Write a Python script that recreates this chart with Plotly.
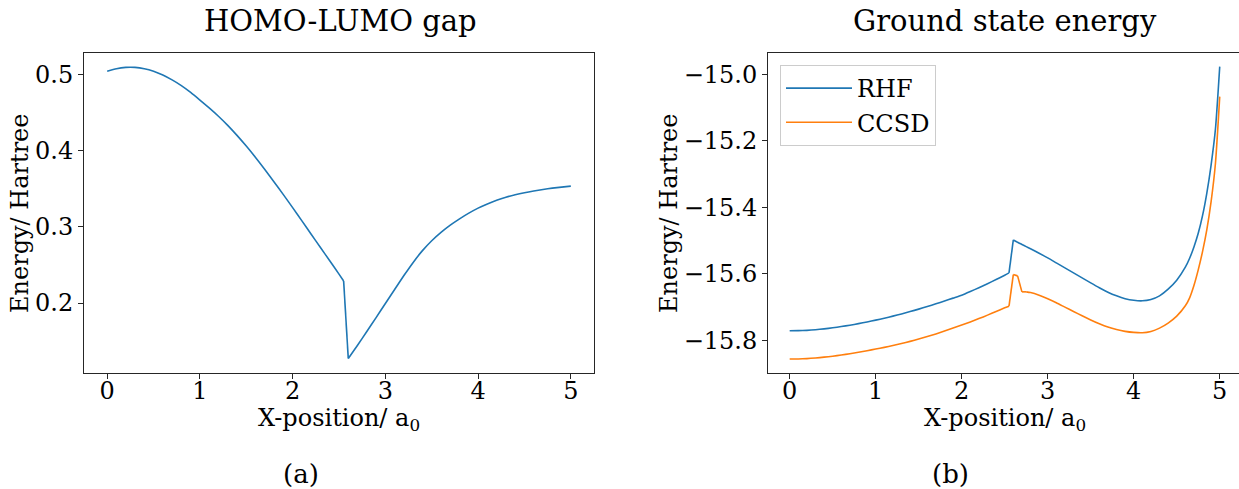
import plotly.graph_objects as go

# ---------------- data ----------------
gap_x = [0.0, 0.1, 0.2, 0.3, 0.4, 0.5, 0.6, 0.7, 0.8, 0.9, 1.0, 1.1, 1.2, 1.3, 1.4, 1.5,
         1.6, 1.7, 1.8, 1.9, 2.0, 2.1, 2.2, 2.3, 2.4, 2.5, 2.55, 2.6, 2.7, 2.8, 2.9,
         3.0, 3.1, 3.2, 3.3, 3.4, 3.5, 3.6, 3.7, 3.8, 3.9, 4.0, 4.1, 4.2, 4.3, 4.4,
         4.5, 4.6, 4.7, 4.8, 4.9, 5.0]
gap_y = [0.505, 0.5083, 0.5100, 0.5100, 0.5083, 0.5050, 0.5000, 0.4935, 0.4860, 0.4770,
         0.4670, 0.4567, 0.4457, 0.4337, 0.4205, 0.4064, 0.3914, 0.3756, 0.3593, 0.3426,
         0.3255, 0.3080, 0.2905, 0.2730, 0.2555, 0.2380, 0.2290, 0.1270, 0.1445, 0.1625,
         0.1808, 0.1993, 0.2178, 0.2361, 0.2534, 0.2689, 0.2819, 0.2929, 0.3024, 0.3107,
         0.3182, 0.3248, 0.3303, 0.3351, 0.3391, 0.3424, 0.3451, 0.3474, 0.3494, 0.3511,
         0.3525, 0.3537]

en_x = [0.0, 0.1, 0.2, 0.3, 0.4, 0.5, 0.6, 0.7, 0.8, 0.9, 1.0, 1.1, 1.2, 1.3, 1.4, 1.5,
        1.6, 1.7, 1.8, 1.9, 2.0, 2.1, 2.2, 2.3, 2.4, 2.5, 2.55, 2.6, 2.65, 2.7, 2.75,
        2.8, 2.9, 3.0, 3.1, 3.2, 3.3, 3.4, 3.5, 3.6, 3.7, 3.8, 3.9, 4.0, 4.1, 4.2,
        4.3, 4.4, 4.5, 4.6, 4.65, 4.7, 4.75, 4.8, 4.85, 4.9, 4.95, 5.0]
rhf_y = [-15.7710, -15.7707, -15.7697, -15.7679, -15.7653, -15.7621, -15.7584, -15.7542,
         -15.7496, -15.7446, -15.7390, -15.7332, -15.7270, -15.7204, -15.7134, -15.7060,
         -15.6982, -15.6900, -15.6816, -15.6729, -15.6640, -15.6530, -15.6415, -15.6295,
         -15.6170, -15.6040, -15.5970, -15.4980, -15.5050, -15.5115, -15.5180, -15.5245,
         -15.5380, -15.5520, -15.5670, -15.5820, -15.5970, -15.6120, -15.6270, -15.6415,
         -15.6550, -15.6660, -15.6745, -15.6795, -15.6810, -15.6770, -15.6660, -15.6460,
         -15.6190, -15.5800, -15.5530, -15.5190, -15.4780, -15.4250, -15.3570, -15.2720,
         -15.1650, -14.9770]
ccsd_y = [-15.8560, -15.8557, -15.8547, -15.8529, -15.8504, -15.8474, -15.8439, -15.8399,
          -15.8356, -15.8310, -15.8260, -15.8210, -15.8155, -15.8095, -15.8030, -15.7960,
          -15.7885, -15.7805, -15.7720, -15.7630, -15.7540, -15.7445, -15.7345, -15.7240,
          -15.7130, -15.7020, -15.6970, -15.6020, -15.6060, -15.6540, -15.6540, -15.6560,
          -15.6640, -15.6750, -15.6870, -15.7000, -15.7130, -15.7260, -15.7385, -15.7500,
          -15.7600, -15.7675, -15.7728, -15.7760, -15.7770, -15.7730, -15.7630, -15.7480,
          -15.7270, -15.6960, -15.6720, -15.6350, -15.5880, -15.5330, -15.4670, -15.3820,
          -15.2680, -15.0670]

titles = ["HOMO-LUMO gap", "Ground state energy"]
captions = ["(a)", "(b)"]
xlabel = "X-position/ a<sub>0</sub>"
ylabel = "Energy/ Hartree"

W, H = 1239, 489
FONT = "DejaVu Serif"
BLUE, ORANGE = "#1f77b4", "#ff7f0e"
AX = "#262626"


def px(x):
    return x / W


def py(y):
    return (H - y) / H


fig = go.Figure()


def add_series(xs, ys, color, name, xa, ya, kinks, show):
    """Smooth segments between sharp kink points; straight segments across kinks."""
    idx = sorted(set([0, len(xs) - 1] + kinks))
    first = True
    for a, b in zip(idx[:-1], idx[1:]):
        seg_x, seg_y = xs[a:b + 1], ys[a:b + 1]
        shape = "spline" if (b - a) > 2 else "linear"
        fig.add_trace(go.Scatter(
            x=seg_x, y=seg_y, mode="lines", name=name, legendgroup=name,
            showlegend=show and first,
            line=dict(color=color, width=1.6, shape=shape, smoothing=0.6),
            xaxis=xa, yaxis=ya))
        first = False


gi = gap_x.index(2.55)
add_series(gap_x, gap_y, BLUE, "gap", "x", "y", [gi, gi + 1], False)
ei = en_x.index(2.55)
add_series(en_x, rhf_y, BLUE, "RHF", "x2", "y2", [ei, ei + 1], True)
add_series(en_x, ccsd_y, ORANGE, "CCSD", "x2", "y2", [ei, ei + 1, ei + 2, ei + 3, ei + 4], True)

axis_common = dict(showgrid=False, zeroline=False, showline=True, linecolor=AX, linewidth=1,
                   ticks="outside", ticklen=5, tickcolor=AX, tickwidth=1,
                   tickfont=dict(family=FONT, size=24, color="black"))
xtick_extra = dict(ticklabelstandoff=-9)

top, bottom = 52.7, 373
fig.update_layout(
    width=W, height=H, margin=dict(l=0, r=0, t=0, b=0),
    paper_bgcolor="white", plot_bgcolor="white",
    font=dict(family=FONT, color="black"),
    xaxis=dict(domain=[px(84), px(594)], range=[-0.25, 5.25], anchor="y", mirror=True,
               tickvals=[0, 1, 2, 3, 4, 5], **axis_common, **xtick_extra),
    yaxis=dict(domain=[py(bottom), py(top)], range=[0.1079, 0.5293], anchor="x", mirror=True,
               tickvals=[0.2, 0.3, 0.4, 0.5], tickformat=".1f", **axis_common),
    xaxis2=dict(domain=[px(768), 1.0], range=[-0.252, 5.224], anchor="y2", mirror=True,
                tickvals=[0, 1, 2, 3, 4, 5], **axis_common, **xtick_extra),
    yaxis2=dict(domain=[py(bottom), py(top)], range=[-15.898, -14.935], anchor="x2",
                mirror=False, tickvals=[-15.8, -15.6, -15.4, -15.2, -15.0], tickformat=".1f",
                **axis_common),
    legend=dict(x=px(780), y=py(65), xanchor="left", yanchor="top", itemwidth=66,
                tracegroupgap=0,
                bgcolor="rgba(255,255,255,0.8)", bordercolor="#cccccc", borderwidth=1,
                font=dict(family=FONT, size=24, color="black")),
)

ann = []
for cx, t in zip([340, 1005], titles):
    ann.append(dict(x=px(cx), y=py(21), xref="paper", yref="paper", text=t, showarrow=False,
                    xanchor="center", yanchor="middle", font=dict(family=FONT, size=29)))
for cx, t in zip([339, 1005], [xlabel, xlabel]):
    ann.append(dict(x=px(cx), y=py(419), xref="paper", yref="paper", text=t, showarrow=False,
                    xanchor="center", yanchor="middle", font=dict(family=FONT, size=24)))
for cx in [20, 669]:
    ann.append(dict(x=px(cx), y=py(213), xref="paper", yref="paper", text=ylabel,
                    showarrow=False, textangle=-90, xanchor="center", yanchor="middle",
                    font=dict(family=FONT, size=24)))
for cx, t in zip([301, 950], captions):
    ann.append(dict(x=px(cx), y=py(474), xref="paper", yref="paper", text=t, showarrow=False,
                    xanchor="center", yanchor="middle", font=dict(family=FONT, size=26)))
fig.update_layout(annotations=ann)

fig.write_html("out.html")
